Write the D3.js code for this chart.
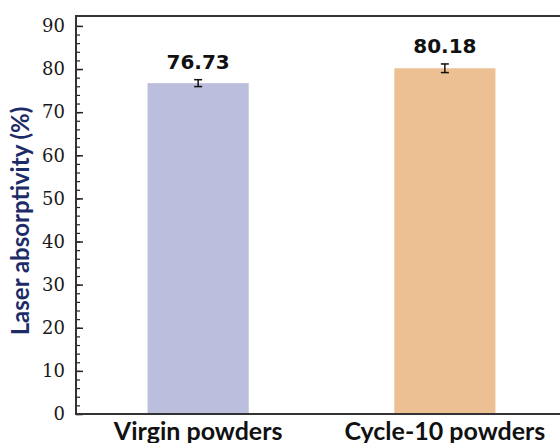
<!DOCTYPE html>
<html>
<head>
<meta charset="utf-8">
<script src="https://cdn.jsdelivr.net/npm/d3@7"></script>
<style>
  body { margin: 0; background: #fff; }
</style>
</head>
<body>
<div class="chart"></div>
<script>
const categories = ['Virgin powders', 'Cycle-10 powders']
const values = [76.73, 80.18]
const errors = [0.8, 1.0]
const colors = ['#bcbedd', '#edc093']
const majorTicks = [0, 10, 20, 30, 40, 50, 60, 70, 80, 90]

const W = 560, H = 443
const margin = ({top: 16, right: -7, bottom: 29, left: 76})

const svg = d3.select('.chart').append('svg')
    .attr('width', W)
    .attr('height', H)

// SCALES
const xScale = d3.scaleBand()
    .domain(categories)
    .range([margin.left, W - margin.right])
    .paddingInner(0.59)
    .paddingOuter(0.29)

const yScale = d3.scaleLinear()
    .domain([0, 92.3])
    .range([H - margin.bottom, margin.top])

// BARS
svg.append('g')
    .selectAll('rect')
    .data(categories)
    .join('rect')
    .attr('x', d => xScale(d))
    .attr('y', (d, i) => yScale(values[i]))
    .attr('width', xScale.bandwidth())
    .attr('height', (d, i) => yScale(0) - yScale(values[i]))
    .attr('fill', (d, i) => colors[i])

// ERROR BARS
const eb = svg.append('g')
    .attr('stroke', '#111')
    .attr('stroke-width', 1.5)
    .selectAll('g')
    .data(categories)
    .join('g')
    .attr('transform', d => `translate(${xScale(d) + xScale.bandwidth() / 2},0)`)
eb.append('line')
    .attr('y1', (d, i) => yScale(values[i] - errors[i]))
    .attr('y2', (d, i) => yScale(values[i] + errors[i]))
eb.append('line')
    .attr('x1', -4).attr('x2', 4)
    .attr('y1', (d, i) => yScale(values[i] + errors[i]))
    .attr('y2', (d, i) => yScale(values[i] + errors[i]))
eb.append('line')
    .attr('x1', -4).attr('x2', 4)
    .attr('y1', (d, i) => yScale(values[i] - errors[i]))
    .attr('y2', (d, i) => yScale(values[i] - errors[i]))

// VALUE LABELS
svg.append('g')
    .attr('font-family', 'DejaVu Sans, sans-serif')
    .attr('font-weight', 'bold')
    .attr('font-size', 20)
    .attr('fill', '#111')
    .attr('text-anchor', 'middle')
    .selectAll('text')
    .data(categories)
    .join('text')
    .attr('x', d => xScale(d) + xScale.bandwidth() / 2)
    .attr('y', (d, i) => yScale(values[i] + errors[i]) - 11)
    .text((d, i) => values[i].toFixed(2))

// AXES
const minor = d3.axisLeft(yScale)
    .tickValues(d3.range(0, 92, 2))
    .tickSize(-4)
    .tickFormat('')
svg.append('g')
    .attr('transform', `translate(${margin.left},0)`)
    .call(minor)
    .call(g => g.select('.domain').remove())
    .call(g => g.selectAll('line').attr('stroke', '#222').attr('stroke-width', 1.2))

const yAxis = d3.axisLeft(yScale)
    .tickValues(majorTicks)
    .tickSize(-7)
    .tickPadding(11)
svg.append('g')
    .attr('transform', `translate(${margin.left},0)`)
    .call(yAxis)
    .call(g => g.select('.domain').remove())
    .call(g => g.selectAll('line').attr('stroke', '#222').attr('stroke-width', 1.5))
    .call(g => g.selectAll('text')
        .attr('font-family', 'DejaVu Serif, serif')
        .attr('font-size', 18)
        .attr('fill', '#1a1a1a'))

// FRAME
const y0 = yScale(0), yTop = margin.top
svg.append('path')
    .attr('d', `M${W + 5},${yTop}H${margin.left}V${y0}H${W + 5}`)
    .attr('fill', 'none')
    .attr('stroke', '#333')
    .attr('stroke-width', 2)

// CATEGORY LABELS
svg.append('g')
    .attr('font-family', 'Lato, sans-serif')
    .attr('font-weight', 'bold')
    .attr('font-size', 25)
    .attr('fill', '#111')
    .attr('text-anchor', 'middle')
    .selectAll('text')
    .data(categories)
    .join('text')
    .attr('x', d => xScale(d) + xScale.bandwidth() / 2)
    .attr('y', H - 3)
    .text(d => d)

// Y LABEL
svg.append('text')
    .attr('transform', 'translate(29,221) rotate(-90)')
    .attr('text-anchor', 'middle')
    .attr('font-family', 'Lato, sans-serif')
    .attr('font-weight', 'bold')
    .attr('font-size', 24)
    .attr('fill', '#1d2c68')
    .text('Laser absorptivity (%)')
</script>
</body>
</html>
